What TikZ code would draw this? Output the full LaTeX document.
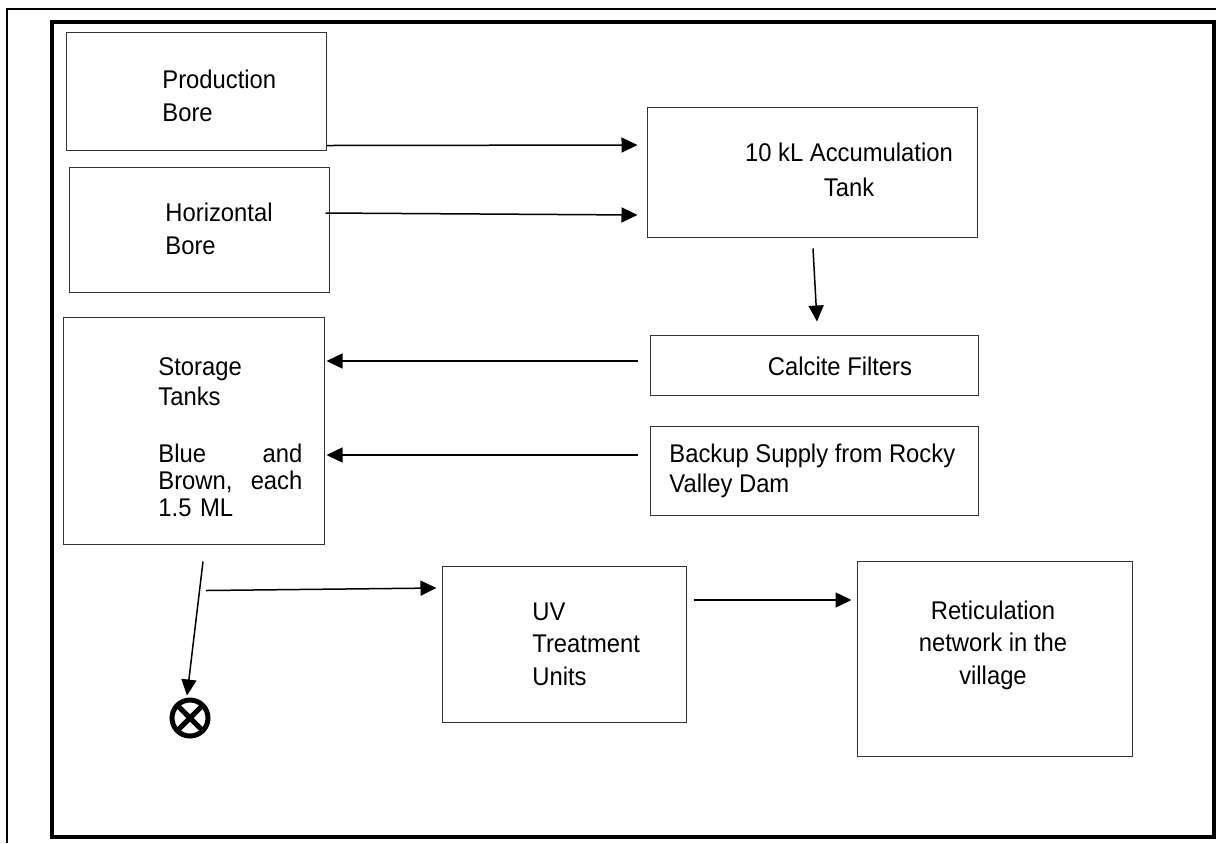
\documentclass[tikz,border=0pt]{standalone}
\usepackage{fontspec}
\setmainfont{Liberation Sans}[FakeStretch=0.93]
\usepackage{tikz}
\usetikzlibrary{arrows.meta}

\begin{document}
\begin{tikzpicture}[x=0.5pt,y=-0.5pt,
	box/.style={shape=rectangle,draw=black!80,line width=0.5pt,inner sep=0pt},
	txt/.style={inner sep=0pt,font=\fontsize{12.8}{16.2}\selectfont},
	flow/.style={-{Triangle[length=8pt,width=7.5pt]},line width=0.75pt}]
	
	\useasboundingbox (0,0) rectangle (1216,843);
	\draw[line width=0.85pt] (7,843) -- (7,9) -- (1216,9);
	\draw[line width=1.7pt] (52,22) rectangle (1214,837);
	
	\node[box,minimum width=130pt,minimum height=59pt]   (prod)   at (196, 91)    {};
	\node[box,minimum width=130pt,minimum height=62.5pt] (horiz)  at (199, 229.5) {};
	\node[box,minimum width=165pt,minimum height=65pt]   (accum)  at (812, 172)   {};
	\node[box,minimum width=164pt,minimum height=30pt]   (calc)   at (814, 365)   {};
	\node[box,minimum width=164pt,minimum height=44.5pt] (backup) at (814, 470.5) {};
	\node[box,minimum width=130.5pt,minimum height=113.5pt] (store) at (193.5, 430.5) {};
	\node[box,minimum width=122pt,minimum height=78pt]   (uv)     at (564, 644)   {};
	\node[box,minimum width=137.5pt,minimum height=97.5pt] (retic) at (994.5, 658.5) {};
	\node[shape=circle,draw=black,line width=2.5pt,minimum size=18pt,inner sep=0pt,
		path picture={\draw[line width=2.6pt]
			(path picture bounding box.south west) -- (path picture bounding box.north east)
			(path picture bounding box.north west) -- (path picture bounding box.south east);}]
		(drain) at (190, 718) {};
	
	\node[txt,anchor=west,align=left]   (prod-t)   at (162, 96)  {Production\\Bore};
	\node[txt,anchor=west,align=left]   (horiz-t)  at (165, 229) {Horizontal\\Bore};
	\node[txt,align=center]             (accum-t)  at (849, 170) {10 kL Accumulation\\[1pt]Tank};
	\node[txt]                          (calc-t)   at (840, 366) {Calcite Filters};
	\node[txt,anchor=west,align=left,font=\fontsize{12.8}{15}\selectfont]
		(backup-t) at (669, 471) {Backup Supply from Rocky\\Valley Dam};
	\node[txt,anchor=north west,text width=72pt,align=left,font=\fontsize{12.8}{13.6}\selectfont] (store-t) at (158, 357)
		{Storage\\[1.4pt]Tanks\\[15pt]Blue\hfill and\\Brown,\hfill each\\1.5 ML};
	\node[txt,anchor=west,align=left]   (uv-t)     at (532, 644) {UV\\Treatment\\Units};
	\node[txt,align=center]             (retic-t)  at (993, 645) {Reticulation\\network in the\\village};
	
	\draw[flow] ([yshift=2.5pt]prod.south east) -- ([yshift=13.5pt,xshift=-4.5pt]accum.west);
	\draw[flow] ([yshift=8.25pt,xshift=-2pt]horiz.east) -- ([yshift=-21.5pt,xshift=-4.5pt]accum.west);
	\draw[flow] ([yshift=-5.5pt,xshift=0.5pt]accum.south) -- ([yshift=6.5pt,xshift=1.5pt]calc.north);
	\draw[flow] ([yshift=2pt,xshift=-6pt]calc.west) -- ([yshift=34.75pt,xshift=1pt]store.east);
	\draw[flow] ([yshift=7.75pt,xshift=-6pt]backup.west) -- ([yshift=-12.25pt,xshift=1pt]store.east);
	\draw[flow] ([yshift=-23pt,xshift=6.25pt]store.south) -- ([yshift=28pt,xshift=-2.5pt]uv.west);
	\draw[flow] ([yshift=-8.5pt,xshift=4.75pt]store.south) -- ([yshift=1pt,xshift=-1.5pt]drain.north);
	\draw[flow] ([yshift=22pt,xshift=3.5pt]uv.east) -- ([yshift=29.25pt,xshift=-2.5pt]retic.west);
\end{tikzpicture}
\end{document}
